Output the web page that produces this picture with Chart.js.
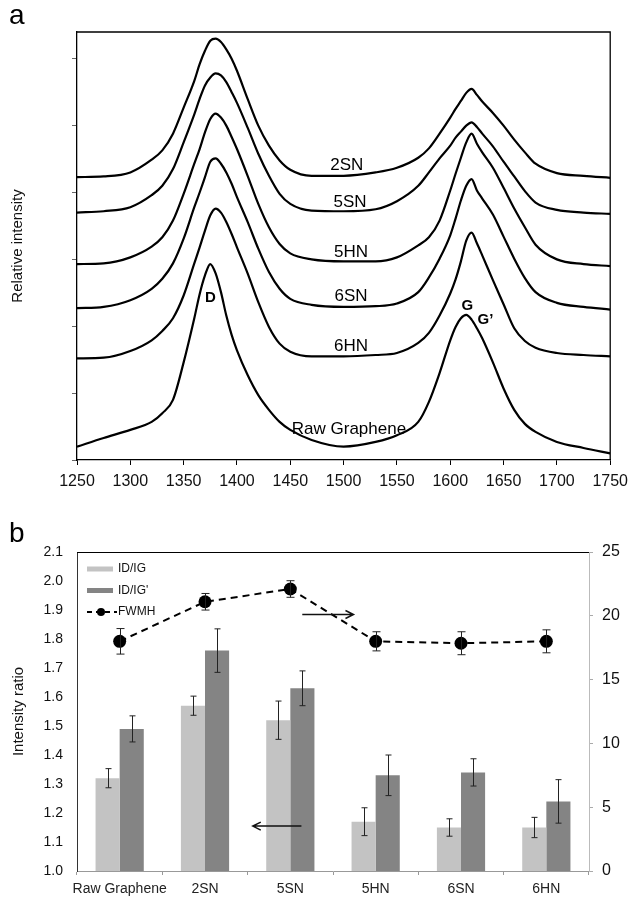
<!DOCTYPE html>
<html>
<head>
<meta charset="utf-8">
<script src="https://cdn.jsdelivr.net/npm/chart.js@4.4.1/dist/chart.umd.min.js"></script>
<style>
  html, body { margin:0; padding:0; background:#fff; }
  #wrap { position:relative; width:635px; height:898px; overflow:hidden; font-family:"Liberation Sans", Arial, sans-serif; }
  canvas { position:absolute; left:0; }
  #spectra { top:0; }
  #ratios { top:495px; }
  .panel { position:absolute; left:9px; font-size:28px; line-height:1; color:#000; }
</style>
</head>
<body>
<div id="wrap">
  <canvas id="spectra" width="635" height="495"></canvas>
  <canvas id="ratios" width="635" height="403"></canvas>
  <div class="panel" style="top:1px">a</div>
  <div class="panel" style="top:519px">b</div>
</div>
<script>
// ---- panel a : spectra (wavenumber, relative intensity, offset curves)
var wavenumbers = [1250,1275,1300,1320,1330,1340,1350,1360,1365,1370,1375,1380,
  1385,1390,1395,1400,1410,1420,1430,1440,1450,1470,
  1500,1530,1550,1570,1580,1590,1600,1605,1610,1615,1620,
  1625,1630,1640,1650,1660,1670,1680,1700,1725,1750];

var sn2 = [4.23,4.24,4.30,4.49,4.63,4.88,5.27,5.67,5.92,6.12,6.27,6.30,
  6.25,6.14,6.00,5.82,5.40,5.00,4.70,4.48,4.34,4.25,
  4.25,4.30,4.37,4.52,4.66,4.88,5.12,5.25,5.37,5.49,5.55,
  5.46,5.36,5.19,5.00,4.79,4.60,4.43,4.29,4.25,4.22];
var sn5 = [3.70,3.72,3.78,3.96,4.10,4.35,4.75,5.17,5.40,5.60,5.72,5.78,
  5.75,5.65,5.50,5.34,4.97,4.58,4.25,3.98,3.83,3.73,
  3.72,3.75,3.87,4.10,4.30,4.51,4.70,4.82,4.91,5.00,5.05,
  4.98,4.88,4.69,4.46,4.24,4.02,3.85,3.74,3.70,3.68];
var hn5 = [2.93,2.94,3.03,3.19,3.33,3.58,3.98,4.43,4.65,4.90,5.10,5.18,
  5.12,5.00,4.83,4.65,4.25,3.83,3.48,3.23,3.09,3.00,
  2.97,2.97,3.03,3.21,3.33,3.58,4.03,4.28,4.52,4.75,4.88,
  4.73,4.60,4.37,4.07,3.76,3.48,3.22,3.00,2.93,2.90];
var sn6 = [2.27,2.29,2.39,2.56,2.71,2.94,3.31,3.78,4.00,4.23,4.46,4.51,
  4.43,4.30,4.13,3.93,3.56,3.16,2.81,2.56,2.41,2.32,
  2.29,2.30,2.34,2.51,2.73,3.01,3.36,3.61,3.88,4.10,4.20,
  4.03,3.91,3.67,3.34,3.01,2.72,2.51,2.35,2.29,2.25];
var hn6 = [1.52,1.53,1.63,1.79,1.93,2.12,2.46,2.94,3.18,3.43,3.66,3.76,
  3.70,3.56,3.38,3.18,2.79,2.36,1.99,1.74,1.62,1.55,
  1.55,1.57,1.60,1.75,1.90,2.16,2.49,2.70,2.97,3.28,3.40,
  3.24,3.06,2.69,2.33,1.97,1.78,1.68,1.60,1.57,1.55];
var rawGraphene = [0.20,0.33,0.45,0.57,0.70,0.90,1.46,2.12,2.48,2.76,2.93,2.79,
  2.51,2.16,1.87,1.64,1.27,0.97,0.75,0.57,0.45,0.30,
  0.20,0.27,0.37,0.57,0.87,1.30,1.79,1.99,2.12,2.17,2.10,
  1.97,1.82,1.46,1.07,0.75,0.54,0.42,0.27,0.18,0.10];

var sampleNames = ['2SN','5SN','5HN','6SN','6HN','Raw Graphene'];
var sampleCurves = [sn2, sn5, hn5, sn6, hn6, rawGraphene];

// text written on the spectra (wavenumber, intensity)
var curveNotes = [
  {text:'2SN', at:[1503, 4.40]},
  {text:'5SN', at:[1506, 3.85]},
  {text:'5HN', at:[1507, 3.10]},
  {text:'6SN', at:[1507, 2.45]},
  {text:'6HN', at:[1507, 1.70]},
  {text:'Raw Graphene', at:[1505, 0.46]},
  {text:'D', at:[1375, 2.43], bold:true},
  {text:'G', at:[1616, 2.30], bold:true},
  {text:'G\u2019', at:[1633, 2.09], bold:true}
];

// ---- panel b : ratios
var samples = ['Raw Graphene','2SN','5SN','5HN','6SN','6HN'];
var idIg     = [1.32, 1.57, 1.52, 1.17, 1.15, 1.15];
var idIgErr  = [0.033, 0.033, 0.066, 0.048, 0.030, 0.035];
var idIg2    = [1.49, 1.76, 1.63, 1.33, 1.34, 1.24];
var idIg2Err = [0.045, 0.075, 0.060, 0.070, 0.047, 0.075];
var fwmh     = [18.0, 21.1, 22.1, 18.0, 17.85, 18.0];
var fwmhErr  = [1.0, 0.65, 0.65, 0.75, 0.9, 0.9];

var leftTicks = [1.0, 2.1, 0.1];   // min, max, step
var rightTicks = [0, 25, 5];

// arrows: [from category pos, to category pos, value, axis]
var arrows = [
  {from:2.14, to:2.74, value:20.1, axis:'y2'},
  {from:2.13, to:1.56, value:1.155, axis:'y'}
];

var FONT = '"Liberation Sans", Arial, sans-serif';
Chart.defaults.font.family = FONT;
Chart.defaults.color = '#000';

var spectraText = {
  id: 'spectraText',
  afterDatasetsDraw: function(chart) {
    var ctx = chart.ctx, x = chart.scales.x, y = chart.scales.y, a = chart.chartArea;
    ctx.save();
    ctx.textAlign = 'center';
    ctx.textBaseline = 'middle';
    ctx.fillStyle = '#000';
    curveNotes.forEach(function(n) {
      ctx.font = (n.bold ? 'bold 15px ' : '17px ') + FONT;
      ctx.fillText(n.text, x.getPixelForValue(n.at[0]), y.getPixelForValue(n.at[1]));
    });
    // top and right frame
    ctx.strokeStyle = '#000';
    ctx.lineWidth = 1.3;
    ctx.beginPath();
    ctx.moveTo(a.left, a.top);
    ctx.lineTo(a.right, a.top);
    ctx.lineTo(a.right, a.bottom);
    ctx.stroke();
    ctx.restore();
  }
};

new Chart(document.getElementById('spectra'), {
  type: 'line',
  data: {
    datasets: sampleCurves.map(function(vals, k) {
      return {
        label: sampleNames[k],
        data: wavenumbers.map(function(w, i) { return {x: w, y: vals[i]}; }),
        borderColor: '#000',
        borderWidth: 2.2,
        pointRadius: 0,
        fill: false,
        cubicInterpolationMode: 'monotone'
      };
    })
  },
  options: {
    responsive: false,
    animation: false,
    layout: { padding: { top: 32, right: 21, left: 0, bottom: 0 } },
    plugins: { legend: { display: false }, tooltip: { enabled: false } },
    scales: {
      x: {
        type: 'linear', min: 1250, max: 1750,
        ticks: { stepSize: 50, autoSkip: false, maxRotation: 0, padding: 7, color: '#111', font: { size: 16 },
                 callback: function(v) { return String(v); } },
        grid: { drawOnChartArea: false, tickLength: 5, color: '#000' },
        border: { color: '#000', width: 1.3 },
        afterFit: function(s) { s.height = 35; }
      },
      y: {
        min: 0, max: 6.4,
        ticks: { stepSize: 1, display: false, includeBounds: false },
        grid: { drawOnChartArea: false, tickLength: 5, color: '#666' },
        border: { color: '#000', width: 1.3 },
        title: { display: true, text: 'Relative intensity', color: '#111', font: { size: 15 }, padding: { top: 9, bottom: 0 } },
        afterFit: function(s) { s.width = 77; }
      }
    }
  },
  plugins: [spectraText]
});

// ---- panel b chart
var errorSets = [fwmhErr, idIgErr, idIg2Err];

var ratioExtras = {
  id: 'ratioExtras',
  afterDatasetsDraw: function(chart) {
    var ctx = chart.ctx, a = chart.chartArea;
    ctx.save();
    // error bars
    chart.data.datasets.forEach(function(ds, i) {
      var meta = chart.getDatasetMeta(i);
      var scale = chart.scales[ds.yAxisID];
      var cap = ds.type === 'line' ? 4 : 3;
      ctx.strokeStyle = '#222';
      ctx.lineWidth = 1;
      meta.data.forEach(function(el, j) {
        var top = scale.getPixelForValue(ds.data[j] + errorSets[i][j]);
        var bot = scale.getPixelForValue(ds.data[j] - errorSets[i][j]);
        var cx = Math.round(el.x) + 0.5;
        ctx.beginPath();
        ctx.moveTo(cx, top); ctx.lineTo(cx, bot);
        ctx.moveTo(cx - cap, top); ctx.lineTo(cx + cap, top);
        ctx.moveTo(cx - cap, bot); ctx.lineTo(cx + cap, bot);
        ctx.stroke();
      });
    });
    // top frame line
    ctx.strokeStyle = '#000';
    ctx.lineWidth = 1;
    ctx.beginPath();
    ctx.moveTo(a.left, a.top + 0.5);
    ctx.lineTo(a.right, a.top + 0.5);
    ctx.stroke();
    // arrows
    var x = chart.scales.x;
    ctx.strokeStyle = '#111';
    ctx.lineWidth = 1.5;
    arrows.forEach(function(ar) {
      var yy = chart.scales[ar.axis].getPixelForValue(ar.value);
      var x0 = x.getPixelForValue(ar.from), x1 = x.getPixelForValue(ar.to);
      var dir = x1 > x0 ? 1 : -1;
      ctx.beginPath();
      ctx.moveTo(x0, yy); ctx.lineTo(x1, yy);
      ctx.moveTo(x1 - dir * 8, yy - 4); ctx.lineTo(x1, yy); ctx.lineTo(x1 - dir * 8, yy + 4);
      ctx.stroke();
    });
    // legend inside the plot
    var lx = a.left + 10, ly = a.top + 17;
    ctx.font = '12px ' + FONT;
    ctx.textBaseline = 'middle';
    ctx.textAlign = 'left';
    [1, 2, 0].forEach(function(i, row) {
      var ds = chart.data.datasets[i];
      var cy = ly + row * 21.5;
      if (ds.type === 'line') {
        ctx.strokeStyle = '#000';
        ctx.lineWidth = 2;
        ctx.setLineDash([5, 4]);
        ctx.beginPath(); ctx.moveTo(lx, cy); ctx.lineTo(lx + 30, cy); ctx.stroke();
        ctx.setLineDash([]);
        ctx.fillStyle = '#000';
        ctx.beginPath(); ctx.arc(lx + 14, cy, 4, 0, Math.PI * 2); ctx.fill();
      } else {
        ctx.fillStyle = ds.backgroundColor;
        ctx.fillRect(lx, cy - 2.5, 26, 5);
      }
      ctx.fillStyle = '#111';
      ctx.fillText(ds.label, lx + 31, cy);
    });
    ctx.restore();
  }
};

new Chart(document.getElementById('ratios'), {
  type: 'bar',
  data: {
    labels: samples,
    datasets: [
      {
        type: 'line', label: 'FWMH', data: fwmh, yAxisID: 'y2', order: 0,
        borderColor: '#000', borderWidth: 2, borderDash: [7, 5], tension: 0, fill: false,
        pointRadius: 6.5, pointBackgroundColor: '#000', pointBorderColor: '#000', pointBorderWidth: 0
      },
      {
        label: 'ID/IG', data: idIg, yAxisID: 'y', order: 1,
        backgroundColor: '#c3c3c3', borderWidth: 0, categoryPercentage: 0.565, barPercentage: 1.0
      },
      {
        label: "ID/IG'", data: idIg2, yAxisID: 'y', order: 1,
        backgroundColor: '#848484', borderWidth: 0, categoryPercentage: 0.565, barPercentage: 1.0
      }
    ]
  },
  options: {
    responsive: false,
    animation: false,
    layout: { padding: { top: 57, right: 0, left: 0, bottom: 0 } },
    plugins: { legend: { display: false }, tooltip: { enabled: false } },
    scales: {
      x: {
        ticks: { padding: 6, color: '#222', font: { size: 14 }, autoSkip: false, maxRotation: 0 },
        grid: { drawOnChartArea: false, tickLength: 4, color: '#999' },
        border: { color: '#999' },
        afterFit: function(s) { s.height = 27; }
      },
      y: {
        position: 'left', min: leftTicks[0], max: leftTicks[1],
        ticks: { stepSize: leftTicks[2], padding: 14, color: '#111', font: { size: 14 },
                 callback: function(v) { return v.toFixed(1); } },
        grid: { drawOnChartArea: false, drawTicks: false },
        border: { color: '#333' },
        title: { display: true, text: 'Intensity ratio', color: '#111', font: { size: 15 }, padding: { top: 10, bottom: 0 } },
        afterFit: function(s) { s.width = 77; }
      },
      y2: {
        position: 'right', min: rightTicks[0], max: rightTicks[1],
        ticks: { stepSize: rightTicks[2], padding: 9, color: '#111', font: { size: 16 } },
        grid: { drawOnChartArea: false, tickLength: 4, color: '#aaa' },
        border: { color: '#bbb' },
        afterFit: function(s) { s.width = 46; }
      }
    }
  },
  plugins: [ratioExtras]
});
</script>
</body>
</html>
